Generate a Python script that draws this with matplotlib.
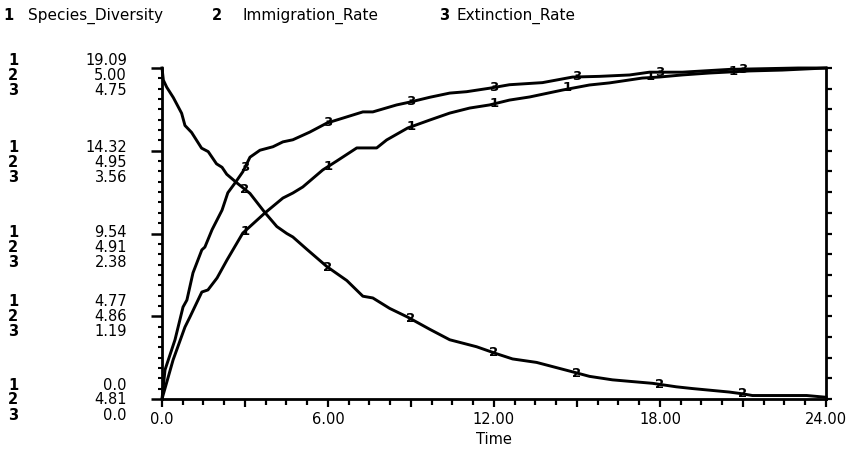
import numpy as np
import matplotlib
matplotlib.use("Agg")
import matplotlib.pyplot as plt
import matplotlib.transforms as mtransforms

# ---- simulation output (Time, value) ----
species_time = [0, 0.40, 0.83, 1.01, 1.44, 1.66, 1.99, 2.35, 2.92, 3.72, 4.37, 4.73,
                5.09, 5.81, 6.32, 7.04, 7.76, 8.12, 8.88, 9.68, 10.40, 11.12, 11.84,
                12.56, 13.29, 14.48, 15.45, 16.17, 17.36, 17.98, 18.81, 19.78, 21.23,
                22.42, 24.0]
species_diversity = [0, 2.25, 4.15, 4.73, 6.17, 6.29, 6.98, 8.02, 9.57, 10.73, 11.59,
                     11.88, 12.23, 13.21, 13.73, 14.48, 14.48, 14.94, 15.63, 16.09,
                     16.49, 16.78, 16.96, 17.24, 17.42, 17.82, 18.11, 18.23, 18.51,
                     18.57, 18.69, 18.80, 18.92, 18.97, 19.09]

immig_time = [0, 0.05, 0.17, 0.41, 0.71, 0.83, 1.07, 1.43, 1.67, 1.97, 2.17, 2.34,
              2.71, 3.18, 3.72, 4.15, 4.51, 4.73, 5.23, 5.96, 6.68, 7.26, 7.62, 8.23,
              8.88, 9.68, 10.40, 11.37, 12.09, 12.67, 13.54, 14.26, 14.98, 15.45,
              16.28, 17.00, 17.73, 18.59, 19.17, 20.50, 20.97, 21.34, 22.20, 23.30, 24.0]
immigration_rate = [5.000, 4.993, 4.989, 4.983, 4.974, 4.967, 4.963, 4.954, 4.952,
                    4.945, 4.943, 4.939, 4.934, 4.928, 4.917, 4.909, 4.905, 4.903,
                    4.896, 4.886, 4.878, 4.869, 4.868, 4.862, 4.857, 4.850, 4.844,
                    4.840, 4.836, 4.833, 4.831, 4.828, 4.825, 4.823, 4.821, 4.820,
                    4.819, 4.817, 4.816, 4.814, 4.813, 4.812, 4.812, 4.812, 4.811]

extinct_time = [0, 0.11, 0.47, 0.76, 0.90, 1.12, 1.44, 1.55, 1.81, 2.17, 2.38, 2.64,
                2.92, 3.18, 3.54, 4.01, 4.37, 4.73, 5.34, 5.96, 6.53, 7.26, 7.62, 8.48,
                8.95, 9.68, 10.40, 11.01, 11.84, 12.56, 13.75, 14.84, 15.81, 16.90,
                17.62, 18.81, 20.51, 23.0, 24.0]
extinction_rate = [0, 0.42, 0.85, 1.32, 1.42, 1.81, 2.14, 2.18, 2.43, 2.71, 2.96, 3.10,
                   3.26, 3.47, 3.57, 3.62, 3.69, 3.72, 3.83, 3.96, 4.03, 4.12, 4.12,
                   4.22, 4.26, 4.33, 4.39, 4.41, 4.46, 4.51, 4.54, 4.62, 4.63, 4.65,
                   4.69, 4.69, 4.73, 4.75, 4.75]

# ---- axis scales and labels ----
series_names = ["Species_Diversity", "Immigration_Rate", "Extinction_Rate"]
species_range = (0.0, 19.09)
immig_range = (4.81, 5.00)
extinct_range = (0.0, 4.75)
species_ticklabels = ["0.0", "4.77", "9.54", "14.32", "19.09"]
immig_ticklabels = ["4.81", "4.86", "4.91", "4.95", "5.00"]
extinct_ticklabels = ["0.0", "1.19", "2.38", "3.56", "4.75"]
time_ticklabels = ["0.0", "", "6.00", "", "12.00", "", "18.00", "", "24.00"]
marker_times = [3, 6, 9, 12, 15, 18, 21]

plt.rcParams["font.family"] = ["DejaVu Sans"]
W, H = 853, 450
fig = plt.figure(figsize=(W / 100, H / 100), dpi=100)
fig.patch.set_facecolor("white")

L, R, T, B = 162, 826, 68, 399
ax1 = fig.add_axes([L / W, 1 - B / H, (R - L) / W, (B - T) / H])
ax2 = ax1.twinx()
ax3 = ax1.twinx()

ax1.set_xlim(0, 24)
ax1.set_ylim(*species_range)
ax2.set_ylim(*immig_range)
ax3.set_ylim(*extinct_range)

lw = 2.1
ax1.plot(species_time, species_diversity, color="black", lw=lw, clip_on=False,
         solid_joinstyle="round")
ax2.plot(immig_time, immigration_rate, color="black", lw=lw, clip_on=False,
         solid_joinstyle="round")
ax3.plot(extinct_time, extinction_rate, color="black", lw=lw, clip_on=False,
         solid_joinstyle="round")

# numbered markers along each curve; where curves 1 and 3 run together the
# "1" is nudged left so both numbers stay readable
for ax, tt, vv, tag in [(ax1, species_time, species_diversity, "1"),
                        (ax2, immig_time, immigration_rate, "2"),
                        (ax3, extinct_time, extinction_rate, "3")]:
    for mt in marker_times:
        dx = -10 if (tag == "1" and mt >= 15) else 0
        tr = mtransforms.offset_copy(ax.transData, fig=fig, x=dx, units="dots")
        ax.text(mt, np.interp(mt, tt, vv), tag, ha="center", va="center",
                fontsize=9.5, fontweight="bold", color="black", zorder=5,
                transform=tr)

# spines
for a in (ax1, ax2, ax3):
    for s in a.spines.values():
        s.set_visible(False)
    a.patch.set_visible(False)
ax1.spines["left"].set_visible(True)
ax1.spines["bottom"].set_visible(True)
ax3.spines["right"].set_visible(True)
for s in (ax1.spines["left"], ax1.spines["bottom"], ax3.spines["right"]):
    s.set_linewidth(2.0)
    s.set_capstyle("projecting")

# x axis ticks
ax1.set_xticks(np.arange(0, 24.01, 3))
ax1.set_xticklabels(time_ticklabels, fontsize=10.5)
ax1.set_xticks(np.arange(0, 24.01, 0.75), minor=True)
ax1.tick_params(axis="x", which="major", direction="out", length=6, width=1.6, pad=3)
ax1.tick_params(axis="x", which="minor", direction="out", length=4, width=1.6)
ax1.set_xlabel("Time", fontsize=10.5, labelpad=4)

# left axis ticks
ax1.set_yticks(np.linspace(*species_range, 5))
ax1.set_yticklabels([])
ax1.set_yticks(np.linspace(*species_range, 33), minor=True)
ax1.tick_params(axis="y", which="major", direction="out", length=8, width=1.8)
ax1.tick_params(axis="y", which="minor", direction="out", length=3, width=1.5)

# right axis ticks
ax2.set_yticks([])
ax3.set_yticks(np.linspace(*extinct_range, 17))
ax3.set_yticklabels([])
ax3.tick_params(axis="y", which="major", direction="out", length=4, width=1.6,
                right=True, left=False)

# stacked scale labels at each left major tick
label_shift_px = [1, 0, 14, 12, 7]   # downward shift of each block (bottom->top)
xnum = mtransforms.blended_transform_factory(fig.transFigure, ax1.transData)
for i, yv in enumerate(np.linspace(*species_range, 5)):
    block = "\n".join([species_ticklabels[i], immig_ticklabels[i], extinct_ticklabels[i]])
    tr = mtransforms.offset_copy(xnum, fig=fig, y=-label_shift_px[i], units="dots")
    fig.text(127 / W, yv, block, transform=tr, ha="right", va="center",
             multialignment="right", fontsize=10.5, linespacing=1.0)
    fig.text(13 / W, yv, "1\n2\n3", transform=tr, ha="center", va="center",
             multialignment="center", fontsize=10.5, fontweight="bold", linespacing=1.0)

# legend row
legend_x = [(8, 28), (217, 243), (444, 457)]
for k, (name, (xd, xt)) in enumerate(zip(series_names, legend_x)):
    fig.text(xd / W, 1 - 16 / H, str(k + 1), ha="center", va="center",
             fontsize=10.5, fontweight="bold")
    fig.text(xt / W, 1 - 16 / H, name, ha="left", va="center", fontsize=11)

fig.savefig("out.png", dpi=100, facecolor="white")
